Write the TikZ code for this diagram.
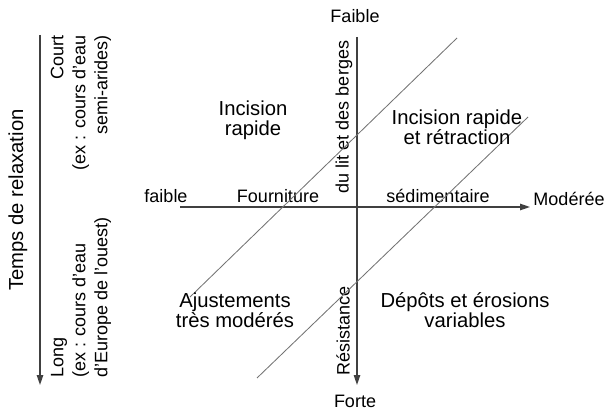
\documentclass[tikz,border=0pt]{standalone}
\usepackage{fontspec}
\setmainfont{Liberation Sans}
\usetikzlibrary{arrows.meta}
\tikzset{
  axis/.style={draw=black!75, line width=1pt, -{Triangle[length=7pt,width=4.5pt]}},
  limit/.style={draw=black!55, line width=0.6pt},
  bigtxt/.style={font=\fontsize{14.4}{14}\selectfont, align=center, inner sep=0pt},
  midtxt/.style={font=\fontsize{12.8}{15.6}\selectfont, inner sep=0pt},
}

\begin{document}
\begin{tikzpicture}[x=0.025cm, y=-0.025cm]
\useasboundingbox (0,0) rectangle (609,412);

%% Relaxation time (left scale)
\coordinate (ttop) at (40,35);
\coordinate (tbot) at (40,385);
\draw[axis] (ttop) -- (tbot);
\node[bigtxt, rotate=90] (temps) at (18,200) {Temps de relaxation};
\node[midtxt, rotate=90, anchor=east, align=right] (court) at (81,35)
  {Court\\(ex : cours d'eau\\semi-arides)};
\node[midtxt, rotate=90, anchor=west, align=left] (long) at (81,378)
  {Long\\(ex : cours d'eau\\d'Europe de l'ouest)};

%% Axes
\coordinate (hstart) at (180,207);
\coordinate (hend) at (530,207);
\coordinate (vstart) at (357,37);
\coordinate (vend) at (357,385);
\draw[axis] (hstart) -- (hend);
\draw[axis] (vstart) -- (vend);

% sediment supply
\node[midtxt, anchor=base] (faible) at (166,202) {faible};
\node[midtxt, anchor=base] (fourn) at (278,202) {Fourniture};
\node[midtxt, anchor=base] (sedim) at (438,202) {sédimentaire};
\node[midtxt, anchor=base] (moderee) at (569,205) {Modérée};

% bank resistance
\node[midtxt, anchor=base] (faibleR) at (355,23) {Faible};
\node[midtxt, anchor=base] (forte) at (355,407) {Forte};
\node[midtxt, rotate=90] (berges) at (344,117) {du lit et des berges};
\node[midtxt, rotate=90] (resist) at (343,331) {Résistance};

%% Limits between domains
\coordinate (l1a) at (457,38);
\coordinate (l1b) at (190,297);
\coordinate (l2a) at (528,117);
\coordinate (l2b) at (257,378);
\draw[limit] (l1a) -- (l1b);
\draw[limit] (l2a) -- (l2b);

%% Domains
\node[bigtxt] (incis) at (253,120) {Incision\\rapide};
\node[bigtxt] (retract) at (457,127) {Incision rapide\\et rétraction};
\node[bigtxt] (ajust) at (235,310) {Ajustements\\très modérés};
\node[bigtxt] (depots) at (465,310) {Dépôts et érosions\\variables};

\end{tikzpicture}
\end{document}
